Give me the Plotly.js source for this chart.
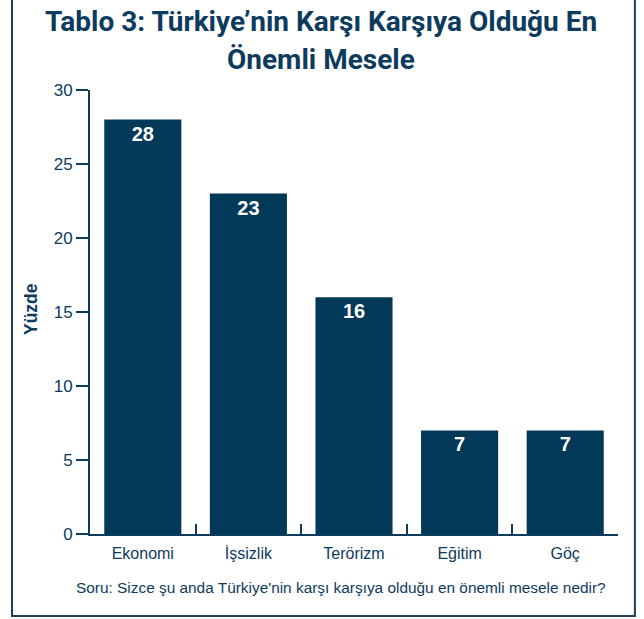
<!DOCTYPE html>
<html>
<head>
<meta charset="utf-8">
<script src="https://cdn.plot.ly/plotly-3.0.1.min.js"></script>
<style>html,body{margin:0;padding:0;background:#fff;}#chart{width:644px;height:619px;}</style>
</head>
<body>
<div id="chart"></div>
<script>
const categories = ["Ekonomi", "İşsizlik", "Terörizm", "Eğitim", "Göç"];
const values = [28, 23, 16, 7, 7];
const yTicks = [0, 5, 10, 15, 20, 25, 30];
const titleLines = ["Tablo 3: Türkiye’nin Karşı Karşıya Olduğu En", "Önemli Mesele"];

const navy = "#023858";
const textColor = "#0d3b5e";
const baseFont = "Liberation Sans, Arial, sans-serif";
const titleFont = {family: "Roboto, Liberation Sans, sans-serif", size: 28, color: textColor, weight: "bold"};

const trace = {
  type: "bar",
  x: categories,
  y: values,
  text: values.map(String),
  textposition: "inside",
  insidetextanchor: "end",
  textangle: 0,
  textfont: {family: baseFont, size: 20, color: "#ffffff", weight: "bold"},
  marker: {color: navy},
  hoverinfo: "none",
  cliponaxis: false
};

const layout = {
  width: 644, height: 619,
  margin: {l: 90, r: 26, t: 90, b: 85},
  paper_bgcolor: "#ffffff",
  plot_bgcolor: "#ffffff",
  bargap: 0.27,
  showlegend: false,
  xaxis: {
    type: "category",
    showline: true, linecolor: textColor, linewidth: 2,
    ticks: "inside", tickson: "boundaries", ticklen: 10, tickwidth: 2, tickcolor: textColor,
    ticklabelstandoff: 4,
    tickfont: {family: baseFont, size: 16, color: textColor},
    showgrid: false, zeroline: false, fixedrange: true
  },
  yaxis: {
    range: [0, 30],
    tickvals: yTicks,
    ticktext: yTicks.map(String),
    showline: true, linecolor: textColor, linewidth: 2,
    ticks: "outside", ticklen: 12, tickwidth: 2, tickcolor: textColor,
    tickfont: {family: baseFont, size: 17, color: textColor},
    showgrid: false, zeroline: false, fixedrange: true
  },
  annotations: [
    {
      text: titleLines[0],
      xref: "paper", yref: "paper", x: 0.4375, y: 1.1543,
      xanchor: "center", yanchor: "middle", showarrow: false,
      font: titleFont
    },
    {
      text: titleLines[1],
      xref: "paper", yref: "paper", x: 0.4375, y: 1.0687,
      xanchor: "center", yanchor: "middle", showarrow: false,
      font: titleFont
    },
    {
      text: "Yüzde", textangle: -90,
      xref: "paper", yref: "paper", x: -0.1117, y: 0.5068,
      xanchor: "center", yanchor: "middle", showarrow: false,
      font: {family: baseFont, size: 17.5, color: textColor, weight: "bold"}
    },
    {
      text: "Soru: Sizce şu anda Türkiye'nin karşı karşıya olduğu en önemli mesele nedir?",
      xref: "paper", yref: "paper", x: 0.475, y: -0.1216,
      xanchor: "center", yanchor: "middle", showarrow: false,
      font: {family: baseFont, size: 15.4, color: textColor}
    }
  ],
  shapes: [
    {
      type: "path", xref: "paper", yref: "paper",
      path: "M -0.1477 1.21 L -0.1477 -0.1847 L 1.032 -0.1847 L 1.032 1.21",
      line: {color: "#1e3f55", width: 2}
    }
  ]
};

Plotly.newPlot("chart", [trace], layout, {displayModeBar: false, staticPlot: true});
</script>
</body>
</html>
